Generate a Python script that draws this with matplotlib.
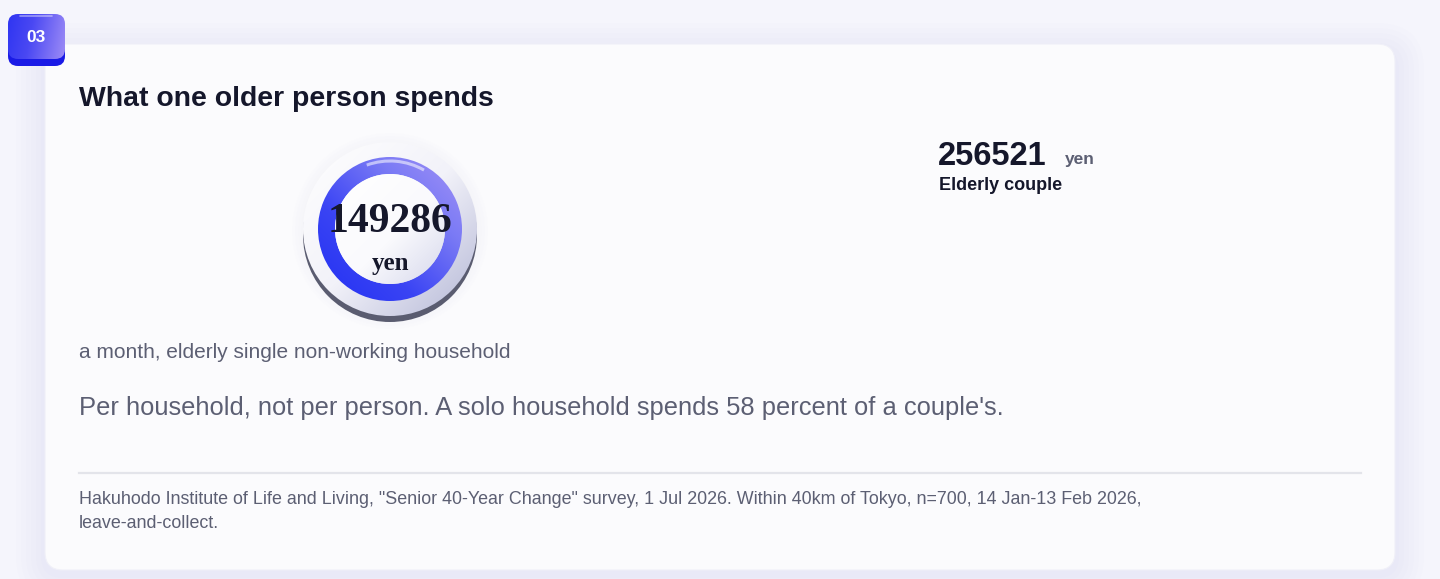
import numpy as np
import matplotlib
matplotlib.use("Agg")
import matplotlib.pyplot as plt
from matplotlib.patches import FancyBboxPatch, Circle, Wedge, Arc
from matplotlib.colors import LinearSegmentedColormap

# ---------------- data ----------------
section_number = "03"
title = "What one older person spends"
single_household_yen = 149286
couple_household_yen = 256521
unit = "yen"
single_label = "a month, elderly single non-working household"
couple_label = "Elderly couple"
share_percent = 58
note = f"Per household, not per person. A solo household spends {share_percent} percent of a couple's."
source_lines = [
    "Hakuhodo Institute of Life and Living, \"Senior 40-Year Change\" survey, 1 Jul 2026. Within 40km of Tokyo, n=700, 14 Jan-13 Feb 2026,",
    "leave-and-collect.",
]

# ---------------- style ----------------
SANS = ["Liberation Sans", "DejaVu Sans"]
SERIF = ["Liberation Serif", "DejaVu Serif"]
DARK = "#15172b"
GREY = "#5c5f73"
plt.rcParams["font.family"] = SANS

W, H = 1440, 579
fig = plt.figure(figsize=(W / 100, H / 100), dpi=100)
fig.patch.set_facecolor("#f5f5fc")
ax = fig.add_axes([0, 0, 1, 1])
ax.set_axis_off()


def gradient(x0, x1, y0, y1, colors, direction, clip, z, stops=None):
    nx = ny = 256
    X, Y = np.meshgrid(np.linspace(0, 1, nx), np.linspace(0, 1, ny))
    dx, dy = direction  # dy positive = downward (screen)
    t = X * dx + Y * dy
    t = (t - t.min()) / (t.max() - t.min())
    if stops is None:
        cmap = LinearSegmentedColormap.from_list("g", colors)
    else:
        cmap = LinearSegmentedColormap.from_list("g", list(zip(stops, colors)))
    im = ax.imshow(t, cmap=cmap, extent=(x0, x1, y1, y0), origin="upper",
                   interpolation="bilinear", zorder=z)
    im.set_clip_path(clip)
    return im


# ---------------- card with soft shadow ----------------
for i in range(6):
    pad = 4 + i * 5
    sh = FancyBboxPatch((45 - pad, 48 - pad + 4), 1350 + 2 * pad, 522 + 2 * pad,
                        boxstyle=f"round,pad=0,rounding_size={18 + pad}",
                        fc="#d6d6f7", ec="none", alpha=0.05, zorder=1)
    ax.add_patch(sh)
card = FancyBboxPatch((45, 44), 1350, 526, boxstyle="round,pad=0,rounding_size=18",
                      fc="#fbfbfd", ec="#f0f0f8", lw=0.8, zorder=2)
ax.add_patch(card)

# ---------------- badge ----------------
badge_base = FancyBboxPatch((8, 18), 57, 48, boxstyle="round,pad=0,rounding_size=10",
                            fc="#1a1ae6", ec="none", zorder=5)
ax.add_patch(badge_base)
badge = FancyBboxPatch((8, 14), 57, 45, boxstyle="round,pad=0,rounding_size=10",
                       fc="none", ec="none", zorder=6)
ax.add_patch(badge)
gradient(8, 65, 14, 59, ["#2f35f2", "#4a48f3", "#9d8cf6"], (1, 0.15), badge, 6,
         stops=[0, 0.4, 1])
ax.plot([20, 52], [16, 16], color="white", alpha=0.45, lw=1.2, zorder=7,
        solid_capstyle="round")
ax.text(36, 37.5, section_number, color="white", fontsize=12.5, fontweight="bold",
        ha="center", va="center", zorder=8)

# ---------------- title ----------------
ax.text(79, 106, title, color=DARK, fontsize=20.4, fontweight="bold",
        ha="left", va="baseline", zorder=5)

# ---------------- medallion ----------------
cx, cy = 390, 229
R_disc, R_out, R_in = 87, 72, 55
# glow
for i in range(4):
    ax.add_patch(Circle((cx, cy + 2), R_disc + 2 + i * 3, fc="#ececf7", ec="none",
                        alpha=0.08, zorder=3))
# bottom shadow / rim
ax.add_patch(Circle((cx, cy + 6), R_disc, fc="#5a5c70", ec="none", zorder=4))
disc = Circle((cx, cy), R_disc, fc="none", ec="none", zorder=5)
ax.add_patch(disc)
gradient(cx - R_disc, cx + R_disc, cy - R_disc, cy + R_disc,
         ["#ffffff", "#f2f2f9", "#b4b7d6"], (1, 1), disc, 5, stops=[0, 0.5, 1])
ring = Wedge((cx, cy), R_out, 0, 360, width=R_out - R_in, fc="none", ec="none", zorder=6)
ax.add_patch(ring)
gradient(cx - R_out, cx + R_out, cy - R_out, cy + R_out,
         ["#2230f3", "#3a44f4", "#7a7af5", "#a393f6"], (1, -1), ring, 6,
         stops=[0, 0.35, 0.7, 1])
inner = Circle((cx, cy), R_in, fc="none", ec="none", zorder=7)
ax.add_patch(inner)
gradient(cx - R_in, cx + R_in, cy - R_in, cy + R_in,
         ["#ffffff", "#fafafd", "#d6d8ec"], (1, 1), inner, 7, stops=[0, 0.55, 1])
ax.add_patch(Arc((cx, cy), 2 * (R_out - 4), 2 * (R_out - 4), theta1=-110, theta2=-60,
                 color="white", alpha=0.55, lw=2.2, zorder=8))

ax.text(cx, 232, f"{single_household_yen}", family=SERIF, fontweight="bold",
        fontsize=30, color=DARK, ha="center", va="baseline", zorder=9)
ax.text(cx, 270, unit, family=SERIF, fontweight="bold", fontsize=18,
        color=DARK, ha="center", va="baseline", zorder=9)

# ---------------- couple ----------------
ax.text(938, 165, f"{couple_household_yen}", color=DARK, fontsize=23.5,
        fontweight="bold", ha="left", va="baseline", zorder=5)
ax.text(1065, 164, unit, color=GREY, fontsize=12.5, fontweight="bold",
        ha="left", va="baseline", zorder=5)
ax.text(939, 190, couple_label, color=DARK, fontsize=13, fontweight="bold",
        ha="left", va="baseline", zorder=5)

# ---------------- captions ----------------
ax.text(79, 353, single_label, color=GREY, fontsize=15, ha="left", va="center", zorder=5)
ax.text(79, 408, note, color=GREY, fontsize=18.4, ha="left", va="center", zorder=5)

ax.plot([79, 1361], [473, 473], color="#e3e4ea", lw=1.6, zorder=5)
for i, line in enumerate(source_lines):
    ax.text(79, 500 + i * 24, line, color=GREY, fontsize=12.9, ha="left", va="center", zorder=5)

ax.set_xlim(0, W)
ax.set_ylim(H, 0)
ax.set_aspect("auto")
fig.savefig("out.png", dpi=100, facecolor=fig.get_facecolor())
